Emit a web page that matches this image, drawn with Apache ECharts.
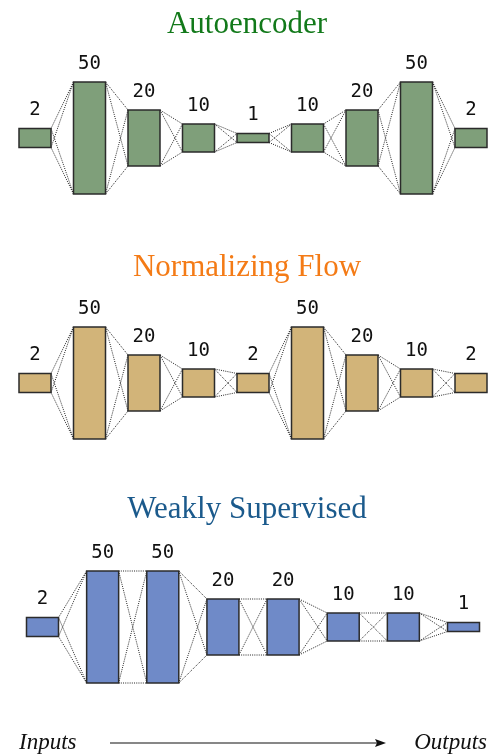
<!DOCTYPE html>
<html>
<head>
<meta charset="utf-8">
<script src="https://cdn.jsdelivr.net/npm/echarts@6/dist/echarts.min.js"></script>
<style>
  html, body { margin: 0; padding: 0; background: #fff; }
  #chart { width: 494px; height: 756px; }
</style>
</head>
<body>
<div id="chart"></div>
<script>
// layer sizes of each network
const autoencoderLayers = [2, 50, 20, 10, 1, 10, 20, 50, 2];
const flowLayers = [2, 50, 20, 10, 2, 50, 20, 10, 2];
const weakLayers = [2, 50, 50, 20, 20, 10, 10, 1];

const titles = ["Autoencoder", "Normalizing Flow", "Weakly Supervised"];
const axisText = ["Inputs", "Outputs"];

// drawn box height (px) for a layer size
const boxPx = { 1: 9, 2: 19, 10: 28, 20: 56, 50: 112 };
const BOX_W = 32;

const panels = [
  { layers: autoencoderLayers, fill: "#7f9f7a", color: "#12791a", left: 35, width: 436, mid: 138, titleY: 4 },
  { layers: flowLayers, fill: "#d2b479", color: "#f47b16", left: 35, width: 436, mid: 383, titleY: 247 },
  { layers: weakLayers, fill: "#6f8ac8", color: "#1b5a8c", left: 42.5, width: 421, mid: 627, titleY: 489 }
];

function boxRect(api, i, units) {
  const c = api.coord([i, 0]);
  const h = boxPx[units];
  return { x: c[0] - BOX_W / 2, y: c[1] - h / 2, width: BOX_W, height: h };
}

function renderLinks(params, api) {
  const i = api.value(0);
  const a = boxRect(api, i, api.value(1));
  const b = boxRect(api, i + 1, api.value(2));
  const x1 = a.x + a.width, x2 = b.x;
  const ys1 = [a.y, a.y + a.height], ys2 = [b.y, b.y + b.height];
  const children = [];
  ys1.forEach(y1 => ys2.forEach(y2 => {
    children.push({
      type: "line",
      shape: { x1: x1, y1: y1, x2: x2, y2: y2 },
      style: { stroke: "#222", lineWidth: 1, lineDash: [1, 1.2] }
    });
  }));
  return { type: "group", children: children };
}

function renderBoxes(fill) {
  return function (params, api) {
    const units = api.value(1);
    const r = boxRect(api, api.value(0), units);
    return {
      type: "group",
      children: [
        { type: "rect", shape: r, style: { fill: fill, stroke: "#2b2b2b", lineWidth: 1.5 } },
        {
          type: "text",
          style: {
            x: r.x + r.width / 2, y: r.y - 18, text: String(units),
            font: "19px 'DejaVu Sans Mono'", fill: "#111",
            align: "center", verticalAlign: "middle"
          }
        }
      ]
    };
  };
}

const grid = [], xAxis = [], yAxis = [], series = [], title = [];
panels.forEach((p, k) => {
  grid.push({ left: p.left, width: p.width, top: p.mid - 60, height: 120 });
  xAxis.push({ type: "value", gridIndex: k, min: 0, max: p.layers.length - 1, show: false });
  yAxis.push({ type: "value", gridIndex: k, min: -60, max: 60, show: false });
  title.push({
    text: titles[k], left: "center", top: p.titleY,
    textStyle: { fontFamily: "Liberation Serif", fontWeight: "normal", fontSize: 31, color: p.color }
  });
  const links = [];
  for (let i = 0; i < p.layers.length - 1; i++) links.push([i, p.layers[i], p.layers[i + 1]]);
  series.push({
    type: "custom", xAxisIndex: k, yAxisIndex: k, z: 1, silent: true,
    renderItem: renderLinks, data: links, clip: false
  });
  series.push({
    type: "custom", xAxisIndex: k, yAxisIndex: k, z: 2, silent: true,
    renderItem: renderBoxes(p.fill), data: p.layers.map((u, i) => [i, u]), clip: false
  });
});

const chart = echarts.init(document.getElementById("chart"));
chart.setOption({
  animation: false,
  backgroundColor: "#fff",
  title: title,
  grid: grid,
  xAxis: xAxis,
  yAxis: yAxis,
  series: series,
  graphic: [
    {
      type: "text", left: 19, top: 731,
      style: { text: axisText[0], font: "italic 23px 'Liberation Serif'", fill: "#111" }
    },
    {
      type: "text", right: 7, top: 731,
      style: { text: axisText[1], font: "italic 23px 'Liberation Serif'", fill: "#111" }
    },
    {
      type: "line", shape: { x1: 110, y1: 743, x2: 378, y2: 743 },
      style: { stroke: "#111", lineWidth: 1.2 }
    },
    {
      type: "polygon", shape: { points: [[386, 743], [375, 739], [377, 743], [375, 747]] },
      style: { fill: "#111" }
    }
  ]
});
</script>
</body>
</html>
